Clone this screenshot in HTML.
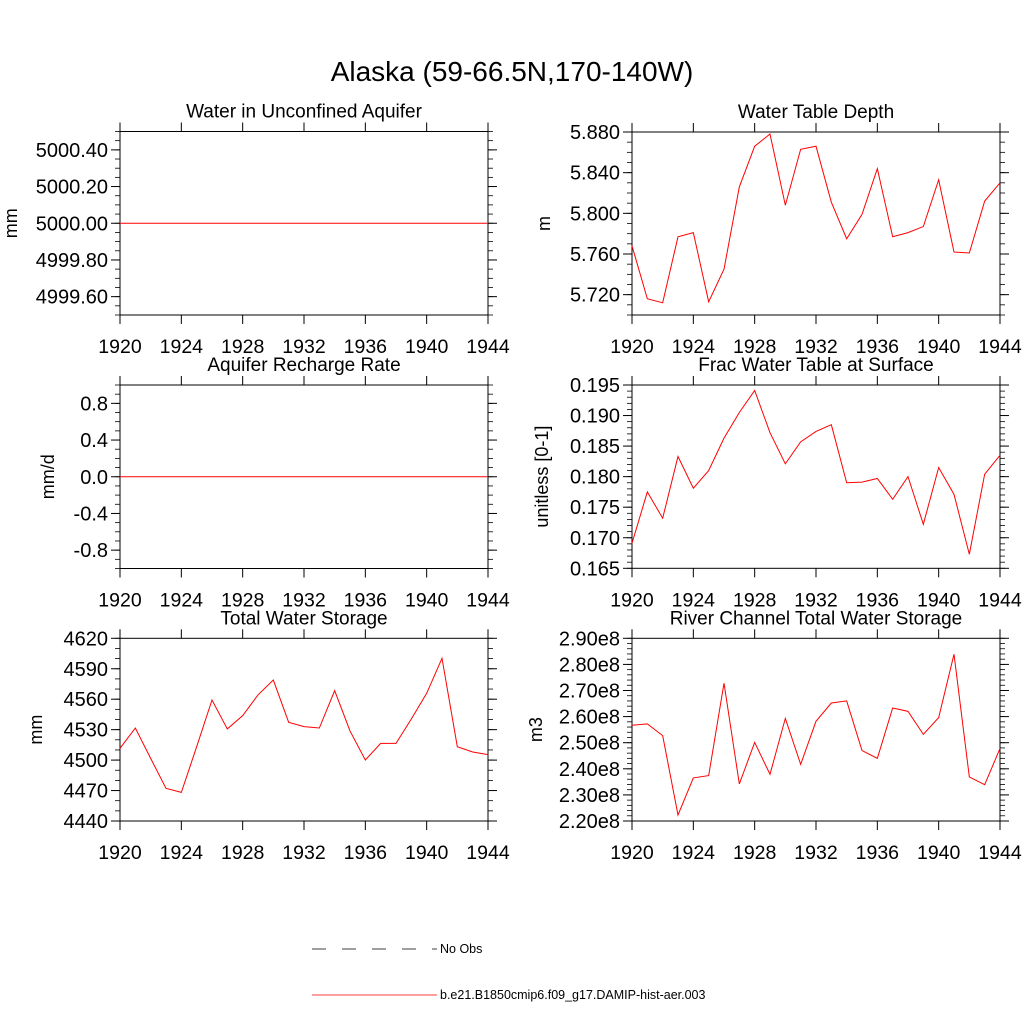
<!DOCTYPE html>
<html><head><meta charset="utf-8"><style>
html,body{margin:0;padding:0;background:#fff;}
svg{display:block;font-family:"Liberation Sans",sans-serif;}
</style></head><body>
<svg id="fig" width="1024" height="1024" viewBox="0 0 1024 1024" xmlns="http://www.w3.org/2000/svg">
<rect x="0" y="0" width="1024" height="1024" fill="#fff"/>
<text x="512" y="81" font-size="28" text-anchor="middle">Alaska (59-66.5N,170-140W)</text>
<g>
<line x1="312" y1="949" x2="437" y2="949" stroke="#000" stroke-width="0.8" stroke-dasharray="14,16"/>
<text x="440" y="953" font-size="12.5">No Obs</text>
<line x1="312" y1="995" x2="437" y2="995" stroke="#f00" stroke-width="0.8"/>
<text x="440" y="999" font-size="12.5">b.e21.B1850cmip6.f09_g17.DAMIP-hist-aer.003</text>
</g>
</svg>
<script>
const years = [1920,1921,1922,1923,1924,1925,1926,1927,1928,1929,1930,1931,1932,1933,1934,1935,1936,1937,1938,1939,1940,1941,1942,1943,1944];
const xTicks = [1920,1924,1928,1932,1936,1940,1944];
const aquiferValues = [5000,5000,5000,5000,5000,5000,5000,5000,5000,5000,5000,5000,5000,5000,5000,5000,5000,5000,5000,5000,5000,5000,5000,5000,5000];
const aquiferTicks = ["4999.60","4999.80","5000.00","5000.20","5000.40"];
const depthValues = [5.768,5.716,5.712,5.777,5.781,5.713,5.745,5.826,5.866,5.878,5.808,5.863,5.866,5.811,5.775,5.799,5.844,5.777,5.781,5.787,5.833,5.762,5.761,5.812,5.830];
const depthTicks = ["5.720","5.760","5.800","5.840","5.880"];
const rechargeValues = [0,0,0,0,0,0,0,0,0,0,0,0,0,0,0,0,0,0,0,0,0,0,0,0,0];
const rechargeTicks = ["-0.8","-0.4","0.0","0.4","0.8"];
const fracValues = [0.1691,0.1775,0.1732,0.1833,0.1781,0.1810,0.1863,0.1905,0.1941,0.1872,0.1821,0.1857,0.1874,0.1885,0.1790,0.1791,0.1797,0.1763,0.1800,0.1722,0.1815,0.1771,0.1673,0.1804,0.1835];
const fracTicks = ["0.165","0.170","0.175","0.180","0.185","0.190","0.195"];
const storageValues = [4511.6,4531.6,4501.7,4472.2,4468.2,4513.2,4559.2,4530.7,4543.8,4564.2,4578.9,4537.2,4533,4531.6,4568.4,4528.7,4500.1,4516.5,4516.5,4540.5,4565.8,4600.3,4513.2,4508,4505.4];
const storageTicks = ["4440","4470","4500","4530","4560","4590","4620"];
const riverValues = [2.567e8,2.572e8,2.527e8,2.223e8,2.365e8,2.374e8,2.728e8,2.342e8,2.501e8,2.379e8,2.593e8,2.417e8,2.582e8,2.652e8,2.660e8,2.470e8,2.440e8,2.633e8,2.620e8,2.532e8,2.596e8,2.839e8,2.369e8,2.339e8,2.478e8];
const riverTicks = ["2.20e8","2.30e8","2.40e8","2.50e8","2.60e8","2.70e8","2.80e8","2.90e8"];

const NS="http://www.w3.org/2000/svg";
const svg=document.getElementById('fig');
function mk(tag,attrs,parent){const e=document.createElementNS(NS,tag);for(const k in attrs)e.setAttribute(k,attrs[k]);parent.appendChild(e);return e;}

function panel(cfg){
  const {name,title,ylab,x0,x1,y0,y1,ymin,ymax,ticks,minor,vals}=cfg;
  const g=mk('g',{},svg);
  
  
  const sx=v=>x0+(v-years[0])/(years[years.length-1]-years[0])*(x1-x0);
  const sy=v=>y1-(v-ymin)/(ymax-ymin)*(y1-y0);
  const border=mk('rect',{x:x0,y:y0,width:x1-x0,height:y1-y0,fill:'none',stroke:'#000','stroke-width':1},g);
  
  
  const tv=ticks.map(t=>Number(t));
  const n=Math.round((ymax-ymin)/minor);
  for(let i=0;i<=n;i++){
    const y=sy(ymin+i*minor);
    mk('line',{x1:x0-5,y1:y,x2:x0,y2:y,stroke:'#000','stroke-width':0.8},g);
    mk('line',{x1:x1,y1:y,x2:x1+5,y2:y,stroke:'#000','stroke-width':0.8},g);
  }
  ticks.forEach((t,i)=>{
    const y=sy(tv[i]);
    mk('line',{x1:x0-9,y1:y,x2:x0,y2:y,stroke:'#000','stroke-width':1},g);
    mk('line',{x1:x1,y1:y,x2:x1+9,y2:y,stroke:'#000','stroke-width':1},g);
    const tx=mk('text',{x:x0-12,y:y+7,'font-size':20,'text-anchor':'end'},g);
    tx.textContent=t;
    
    
  });
  xTicks.forEach(t=>{
    const x=sx(t);
    mk('line',{x1:x,y1:y1,x2:x,y2:y1+9,stroke:'#000','stroke-width':1},g);
    mk('line',{x1:x,y1:y0-9,x2:x,y2:y0,stroke:'#000','stroke-width':1},g);
    const tx=mk('text',{x:x,y:y1+38,'font-size':19.5,'text-anchor':'middle'},g);
    tx.textContent=t;
    
    
  });
  const tt=mk('text',{x:(x0+x1)/2,y:y0-14,'font-size':19,'text-anchor':'middle'},g);
  tt.textContent=title;
  
  
  const yl=mk('text',{x:0,y:0,'font-size':18,'text-anchor':'middle',transform:`translate(${cfg.ylx},${(y0+y1)/2}) rotate(-90)`},g);
  yl.textContent=ylab;
  
  
  const pts=vals.map((v,i)=>sx(years[i]).toFixed(2)+','+sy(v).toFixed(2)).join(' ');
  const pl=mk('polyline',{points:pts,fill:'none',stroke:'#f00','stroke-width':1},g);
  
  
}
panel({name:'unconfined-aquifer',title:'Water in Unconfined Aquifer',ylab:'mm',ylx:17,x0:120,x1:488,y0:131.5,y1:315,ymin:4999.5,ymax:5000.5,ticks:aquiferTicks,minor:0.05,vals:aquiferValues});
panel({name:'water-table-depth',title:'Water Table Depth',ylab:'m',ylx:550,x0:632,x1:1000,y0:132,y1:315,ymin:5.70,ymax:5.88,ticks:depthTicks,minor:0.01,vals:depthValues});
panel({name:'aquifer-recharge',title:'Aquifer Recharge Rate',ylab:'mm/d',ylx:54,x0:120,x1:488,y0:385,y1:568.5,ymin:-1,ymax:1,ticks:rechargeTicks,minor:0.1,vals:rechargeValues});
panel({name:'frac-water-table',title:'Frac Water Table at Surface',ylab:'unitless [0-1]',ylx:548,x0:632,x1:1000,y0:385,y1:568.3,ymin:0.165,ymax:0.195,ticks:fracTicks,minor:0.001,vals:fracValues});
panel({name:'total-water-storage',title:'Total Water Storage',ylab:'mm',ylx:42,x0:120,x1:488,y0:638.3,y1:821,ymin:4440,ymax:4620,ticks:storageTicks,minor:10,vals:storageValues});
panel({name:'river-channel-storage',title:'River Channel Total Water Storage',ylab:'m3',ylx:542,x0:632,x1:1000,y0:638.3,y1:821,ymin:2.20e8,ymax:2.90e8,ticks:riverTicks,minor:0.02e8,vals:riverValues});
</script>
</body></html>
